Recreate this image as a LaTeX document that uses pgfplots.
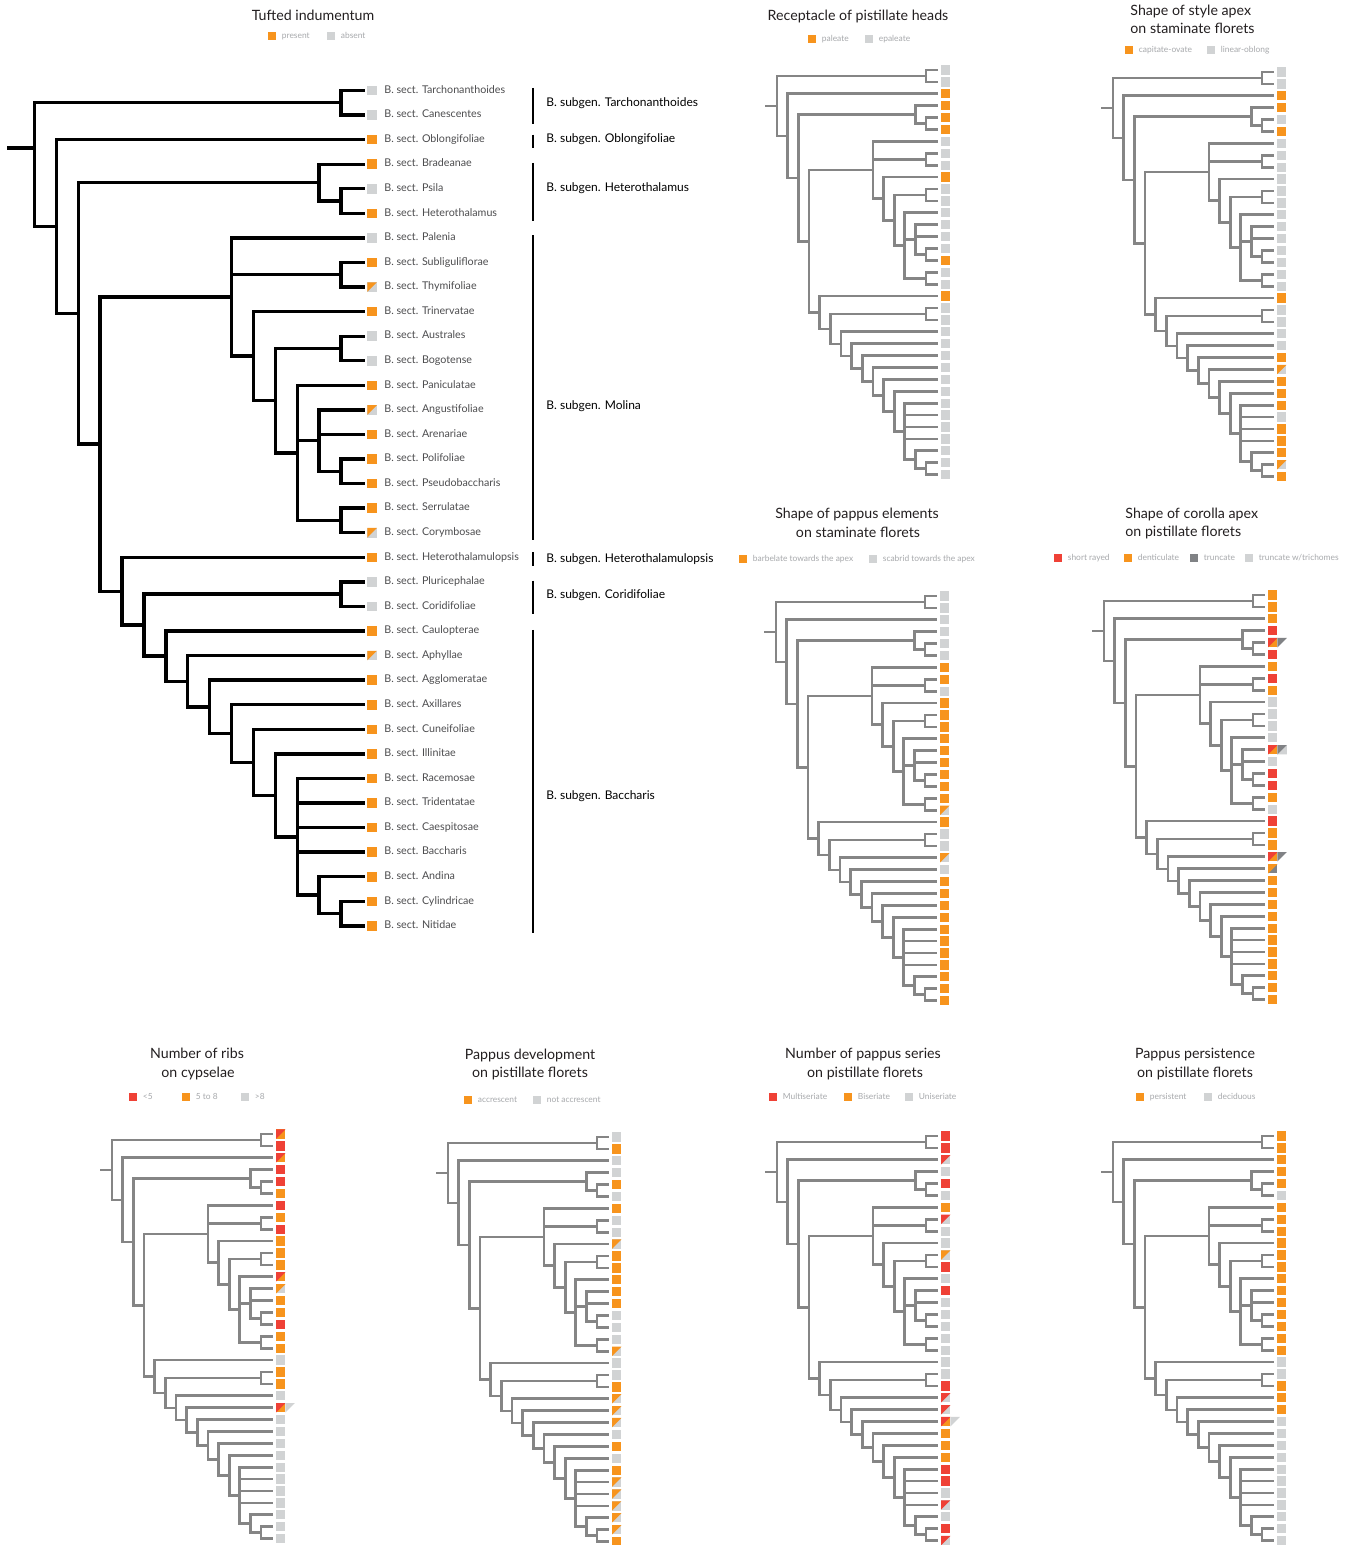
\documentclass[border=0pt]{standalone}
\usepackage{pgfplots}
\pgfplotsset{compat=1.18}
\usepackage{pgfplotstable}
\usepackage{fontspec}
\setmainfont{Lato}

\definecolor{cO}{HTML}{F7941D}
\definecolor{cG}{HTML}{D1D3D4}
\definecolor{cR}{HTML}{EF4136}
\definecolor{cD}{HTML}{808285}
\definecolor{cT}{HTML}{858585}
\definecolor{cLab}{HTML}{4D4D4F}
\definecolor{cLeg}{HTML}{A7A9AC}
\definecolor{cTitle}{HTML}{231F20}

% ---------- plot marks for character states ----------
\newcommand\msq[1]{\pgfpathrectangle{\pgfqpoint{-\pgfplotmarksize}{-\pgfplotmarksize}}{\pgfqpoint{2\pgfplotmarksize}{2\pgfplotmarksize}}\pgfsetfillcolor{#1}\pgfusepath{fill}}
\newcommand\mtri[7]{\pgfpathmoveto{\pgfqpoint{#1\pgfplotmarksize}{#2\pgfplotmarksize}}\pgfpathlineto{\pgfqpoint{#3\pgfplotmarksize}{#4\pgfplotmarksize}}\pgfpathlineto{\pgfqpoint{#5\pgfplotmarksize}{#6\pgfplotmarksize}}\pgfpathclose\pgfsetfillcolor{#7}\pgfusepath{fill}}
\newcommand\ulc[1]{\mtri{-1}{1}{1}{1}{-1}{-1}{#1}}
\newcommand\wedgeR[1]{\mtri{1}{1}{3}{1}{1}{-1}{#1}}
\newcommand\lrR[1]{\mtri{3}{1}{3}{-1}{1}{-1}{#1}}
\pgfdeclareplotmark{sO}{\msq{cO}}
\pgfdeclareplotmark{sG}{\msq{cG}}
\pgfdeclareplotmark{sR}{\msq{cR}}
\pgfdeclareplotmark{sD}{\msq{cD}}
\pgfdeclareplotmark{OG}{\msq{cG}\ulc{cO}}
\pgfdeclareplotmark{RO}{\msq{cO}\ulc{cR}}
\pgfdeclareplotmark{RG}{\msq{cG}\ulc{cR}}
\pgfdeclareplotmark{OD}{\msq{cD}\ulc{cO}}
\pgfdeclareplotmark{ROD}{\msq{cO}\ulc{cR}\wedgeR{cD}}
\pgfdeclareplotmark{ROG}{\msq{cO}\ulc{cR}\wedgeR{cG}}
\pgfdeclareplotmark{RODL}{\msq{cO}\ulc{cR}\lrR{cG}\wedgeR{cD}}

% ---------- tree topology (x = node depth, y = tip index) ----------
\pgfplotstableread{
d t
15 1
14 1
14 2
15 2
nan nan
15 5
14 5
14 6
15 6
nan nan
15 4
13 4
13 5.5
14 5.5
nan nan
15 8
14 8
14 9
15 9
nan nan
15 11
14 11
14 12
15 12
nan nan
15 16
14 16
14 17
15 17
nan nan
15 14
13 14
13 16.5
14 16.5
nan nan
13 15
15 15
nan nan
15 18
14 18
14 19
15 19
nan nan
15 13
12 13
12 18.5
14 18.5
nan nan
12 15.25
13 15.25
nan nan
14 11.5
11 11.5
11 15.75
12 15.75
nan nan
15 10
10 10
10 13.625
11 13.625
nan nan
15 7
9 7
9 11.8125
10 11.8125
nan nan
9 8.5
14 8.5
nan nan
15 34
14 34
14 35
15 35
nan nan
15 33
13 33
13 34.5
14 34.5
nan nan
15 29
12 29
12 33.75
13 33.75
nan nan
12 30
15 30
nan nan
12 31
15 31
nan nan
12 32
15 32
nan nan
15 28
11 28
11 31.375
12 31.375
nan nan
15 27
10 27
10 29.6875
11 29.6875
nan nan
15 26
9 26
9 28.3438
10 28.3438
nan nan
15 25
8 25
8 27.1719
9 27.1719
nan nan
15 24
7 24
7 26.0859
8 26.0859
nan nan
15 23
6 23
6 25.0430
7 25.0430
nan nan
15 21
14 21
14 22
15 22
nan nan
14 21.5
5 21.5
5 24.0215
6 24.0215
nan nan
15 20
4 20
4 22.7607
5 22.7607
nan nan
9 9.4063
3 9.4063
3 21.3804
4 21.3804
nan nan
13 4.75
2 4.75
2 15.3933
3 15.3933
nan nan
15 3
1 3
1 10.0717
2 10.0717
nan nan
14 1.5
0 1.5
0 6.5358
1 6.5358
}\tree

% ---------- character states per section (tip 1..35) ----------
\pgfplotstableread{
t main rec sty pel cor rib pdv ser per
1 G G G G O RO G R O
2 G G G G O R O R O
3 O O O G O RO G RG O
4 O O O G R R G G O
5 G O G G ROD R O R O
6 O O O G R O G G G
7 G G G O O R O O O
8 O G G O R O G RG O
9 OG G G G O R G G O
10 O O G O L O OG G O
11 G G G O L O O OG O
12 G G G O L O O R O
13 O G G O L RO O G O
14 OG G G O RODL OG O R O
15 O G G O L O O G O
16 O G G O R O G G O
17 O O G O R R G G O
18 O G G O O O G G O
19 OG G G OG L O OG G O
20 O O O O R G G G G
21 G G G G O O G G G
22 G G G G O O O R O
23 O G G OG ROD G OG RG O
24 OG G G G OD ROG OG RG O
25 O G O O O G OG ROG G
26 O G OG O O G G O G
27 O G O O O G O O G
28 O G O O O G G O G
29 O G O O O G O R G
30 O G G O O G OG R G
31 O G O O O G OG G G
32 O G O O O G OG RG G
33 O G O O O G OG G G
34 O G OG O O G OG R G
35 O G O O O G O RG G
}\states

\pgfplotsset{
  states/.style={scatter, only marks, scatter src=explicit symbolic, mark size=2.33pt,
    scatter/classes={O={mark=sO},G={mark=sG},L={mark=sG},R={mark=sR},D={mark=sD},
      OG={mark=OG},RO={mark=RO},RG={mark=RG},OD={mark=OD},ROD={mark=ROD},ROG={mark=ROG},RODL={mark=RODL}}},
  tree small/.style={color=cT, line width=1.35pt, line cap=rect, line join=miter},
  tree main/.style={color=black, line width=1.7pt, line cap=rect, line join=miter},
  small panel/.style={hide axis, scale only axis, width=94.785pt, height=208.25pt,
    xmin=-1.3, xmax=16.5, ymin=0.5, ymax=35.5, y dir=reverse, anchor=north west,
    clip=false, unbounded coords=jump},
}

\newcommand\panel[3]{%
\begin{axis}[small panel, at={(#1pt,#2pt)}]
\addplot[tree small] table[x=d,y=t]{\tree};
\addplot[tree small] coordinates {(-1.0,4.0179) (0,4.0179)};
\addplot[states] table[x expr=15.85, y=t, meta=#3]{\states};
\end{axis}}

\tikzset{
  ttl/.style={font=\fontsize{7.1}{8}\selectfont, text=cTitle, inner sep=0pt, text height=5.2pt, text depth=1.6pt},
  legt/.style={font=\fontsize{4.2}{5}\selectfont, text=cLeg, inner sep=0pt, anchor=west, text height=3pt, text depth=0.9pt},
  lab/.style={font=\fontsize{5.35}{6.3}\selectfont, text=cLab, inner sep=0pt, anchor=west, text height=3.9pt, text depth=1.15pt},
  sub/.style={font=\fontsize{6.0}{7}\selectfont, text=black, inner sep=0pt, anchor=west, text height=4.4pt, text depth=1.3pt},
}
\newcommand\leg[4]{\fill[#3] ({#1-4.2},{#2-4.2}) rectangle ({#1+4.2},{#2+4.2}); \node[legt] at ({#1+9.5},#2) {#4};}

\begin{document}
\begin{tikzpicture}
\path[use as bounding box, fill=white] (0,0) rectangle (675pt,-772.5pt);

% main tree: Tufted indumentum
\begin{axis}[hide axis, scale only axis, width=194.91pt, height=429.975pt,
  xmin=-1.3, xmax=16.5, ymin=0.5, ymax=35.5, y dir=reverse, anchor=north west,
  at={(2.965pt,-39.1075pt)}, clip=false, unbounded coords=jump]
\addplot[tree main] table[x=d,y=t]{\tree};
\addplot[tree main] coordinates {(-1.16,3.34) (0,3.34)};
\addplot[states, mark size=2.4pt] table[x expr=15.42, y=t, meta=main]{\states};
\end{axis}

\panel{381.578}{-32.025}{rec}
\panel{549.578}{-33.025}{sty}
\panel{381.078}{-295.025}{pel}
\panel{545.078}{-294.525}{cor}
\panel{49.078}{-564.025}{rib}
\panel{217.078}{-565.525}{pdv}
\panel{381.578}{-565.025}{ser}
\panel{549.578}{-565.025}{per}

\begin{scope}[x=0.5pt,y=-0.5pt]
\foreach \n [count=\i] in {Tarchonanthoides,Canescentes,Oblongifoliae,Bradeanae,Psila,Heterothalamus,Palenia,Subliguliflorae,Thymifoliae,Trinervatae,Australes,Bogotense,Paniculatae,Angustifoliae,Arenariae,Polifoliae,Pseudobaccharis,Serrulatae,Corymbosae,Heterothalamulopsis,Pluricephalae,Coridifoliae,Caulopterae,Aphyllae,Agglomeratae,Axillares,Cuneifoliae,Illinitae,Racemosae,Tridentatae,Caespitosae,Baccharis,Andina,Cylindricae,Nitidae}
  {\node[lab] at (384,{90.5+(\i-1)*24.57}) {B. sect. \n};}

\draw[line width=1.3pt] (533,88) -- (533,123.7);
\draw[line width=1.3pt] (533,134.7) -- (533,148.2);
\draw[line width=1.3pt] (533,163) -- (533,220.7);
\draw[line width=1.3pt] (533,235.5) -- (533,540.1);
\draw[line width=1.3pt] (533,552.4) -- (533,565.9);
\draw[line width=1.3pt] (533,580.7) -- (533,613.8);
\draw[line width=1.3pt] (533,629.8) -- (533,933.2);
\node[sub] at (546,103) {B. subgen. Tarchonanthoides};
\node[sub] at (546,139) {B. subgen. Oblongifoliae};
\node[sub] at (546,188) {B. subgen. Heterothalamus};
\node[sub] at (546,406) {B. subgen. Molina};
\node[sub] at (546,559) {B. subgen. Heterothalamulopsis};
\node[sub] at (546,595) {B. subgen. Coridifoliae};
\node[sub] at (546,796) {B. subgen. Baccharis};

% titles
\node[ttl] at (313,17) {Tufted indumentum};
\node[ttl] at (858,17) {Receptacle of pistillate heads};
\node[ttl, anchor=west] at (1130,12) {Shape of style apex};
\node[ttl, anchor=west] at (1130,30) {on staminate florets};
\node[ttl] at (857,515) {Shape of pappus elements};
\node[ttl] at (858,534) {on staminate florets};
\node[ttl, anchor=west] at (1125,515) {Shape of corolla apex};
\node[ttl, anchor=west] at (1125,533) {on pistillate florets};
\node[ttl] at (197,1055) {Number of ribs};
\node[ttl] at (198,1074) {on cypselae};
\node[ttl] at (530,1056) {Pappus development};
\node[ttl] at (530,1074) {on pistillate florets};
\node[ttl] at (863,1055) {Number of pappus series};
\node[ttl] at (865,1074) {on pistillate florets};
\node[ttl] at (1195,1055) {Pappus persistence};
\node[ttl] at (1195,1074) {on pistillate florets};

% legends
\leg{272}{36}{cO}{present} \leg{331}{36}{cG}{absent}
\leg{812}{39}{cO}{paleate} \leg{869}{39}{cG}{epaleate}
\leg{1129}{50}{cO}{capitate-ovate} \leg{1211}{50}{cG}{linear-oblong}
\leg{743}{559}{cO}{barbelate towards the apex} \leg{873}{559}{cG}{scabrid towards the apex}
\leg{1058}{558}{cR}{short rayed} \leg{1128}{558}{cO}{denticulate} \leg{1194}{558}{cD}{truncate} \leg{1249}{558}{cG}{truncate w/trichomes}
\leg{133}{1097}{cR}{<5} \leg{186}{1097}{cO}{5 to 8} \leg{245}{1097}{cG}{>8}
\leg{468}{1100}{cO}{accrescent} \leg{537}{1100}{cG}{not accrescent}
\leg{773}{1097}{cR}{Multiseriate} \leg{848}{1097}{cO}{Biseriate} \leg{909}{1097}{cG}{Uniseriate}
\leg{1140}{1097}{cO}{persistent} \leg{1208}{1097}{cG}{deciduous}
\end{scope}
\end{tikzpicture}
\end{document}
